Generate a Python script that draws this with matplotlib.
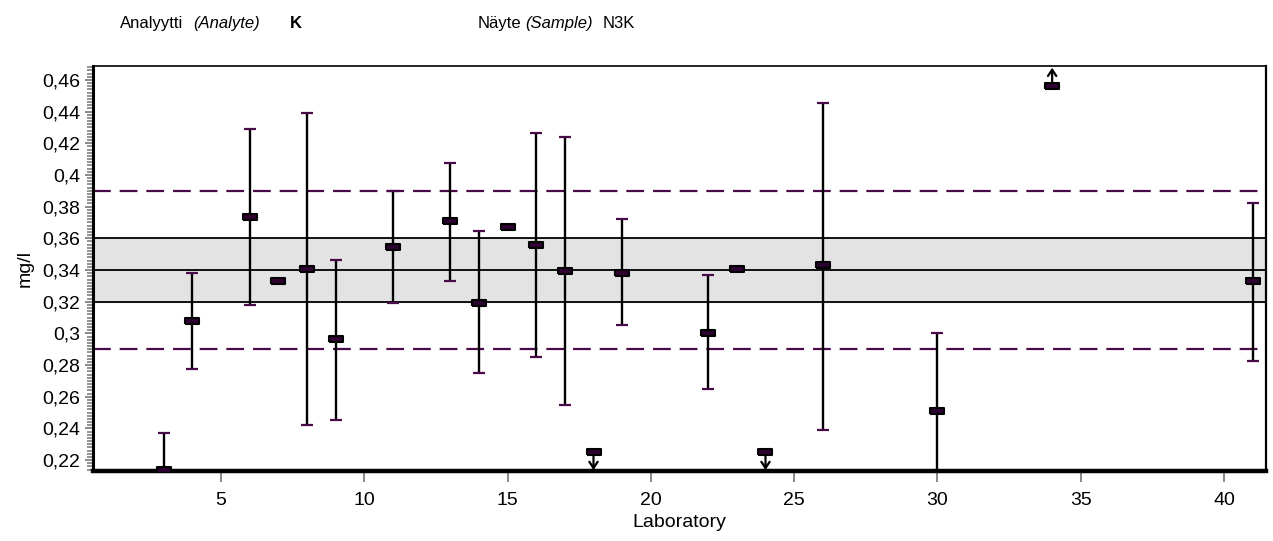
import numpy as np
import matplotlib
matplotlib.use("Agg")
import matplotlib.pyplot as plt
from matplotlib.ticker import MultipleLocator, FuncFormatter

plt.rcParams["font.family"] = ["Liberation Sans", "DejaVu Sans"]

# lab results: mean value, lower and upper end of uncertainty (nan = no bar)
labs = [3, 4, 6, 7, 8, 9, 11, 13, 14, 15, 16, 17, 19, 22, 23, 26, 30, 41]
vals = [0.2136, 0.3078, 0.3735, 0.333, 0.3406, 0.2962, 0.3547, 0.3711, 0.3191,
        0.3673, 0.3558, 0.3393, 0.3381, 0.300, 0.3406, 0.3431, 0.2507, 0.333]
lows = [0.19, 0.2772, 0.3179, np.nan, 0.2419, 0.2454, 0.3191, 0.333, 0.2747,
        np.nan, 0.285, 0.2545, 0.305, 0.2646, np.nan, 0.2393, 0.20, 0.2823]
highs = [0.237, 0.3381, 0.429, np.nan, 0.439, 0.3465, 0.39, 0.4076, 0.3644,
         np.nan, 0.4267, 0.4242, 0.3722, 0.3366, np.nan, 0.4457, 0.3002, 0.3823]

# results outside the axis range, drawn with an arrow
out_labs = [18, 24, 34]
out_vals = [0.2252, 0.2252, 0.4562]
out_dir = [-1, -1, 1]

assigned = 0.34
band_lo, band_hi = 0.32, 0.36
lim_lo, lim_hi = 0.29, 0.39

purple = "#4a0a4a"
mfill = "#2e0032"

fig = plt.figure(figsize=(12.73, 5.41), dpi=100)
ax = fig.add_axes([93/1273, 1-471/541, (1266-93)/1273, (471-66)/541])
ax.set_xlim(0.54, 41.46)
ax.set_ylim(0.2131, 0.4688)

ax.axhspan(band_lo, band_hi, color="#e3e3e3", zorder=0)
for v in (band_lo, assigned, band_hi):
    ax.axhline(v, color="black", lw=1.3, zorder=1)
for v in (lim_lo, lim_hi):
    ax.axhline(v, color=purple, lw=1.6, ls=(0, (8, 4)), zorder=1)

rect = [(-1, -0.42), (1, -0.42), (1, 0.42), (-1, 0.42), (-1, -0.42)]

lab_arr = np.array(labs, float)
lo_arr = np.array(lows)
hi_arr = np.array(highs)
has = ~np.isnan(lo_arr)
ax.vlines(lab_arr[has], lo_arr[has], hi_arr[has], color="black", lw=1.7, zorder=2)
ax.plot(lab_arr[has], lo_arr[has], ls="none", marker="_", ms=9, mew=1.6,
        color=purple, zorder=3)
ax.plot(lab_arr[has], hi_arr[has], ls="none", marker="_", ms=9, mew=1.6,
        color=purple, zorder=3)
ax.plot(labs, vals, ls="none", marker=rect, ms=10, mfc=mfill, mec="black",
        mew=1.5, zorder=4)

ax.plot(out_labs, out_vals, ls="none", marker=rect, ms=10, mfc=mfill, mec="black",
        mew=1.5, zorder=4)
for x, v, d in zip(out_labs, out_vals, out_dir):
    ax.annotate("", xy=(x, v + d * 0.0115), xytext=(x, v + d * 0.0022),
                arrowprops=dict(arrowstyle="->,head_length=0.45,head_width=0.3",
                                color="black", lw=1.6, shrinkA=0, shrinkB=0),
                zorder=5)

ax.xaxis.set_major_locator(MultipleLocator(5))
ax.yaxis.set_major_locator(MultipleLocator(0.02))
ax.yaxis.set_minor_locator(MultipleLocator(0.002))
ax.xaxis.set_major_formatter(FuncFormatter(lambda v, p: "" if v < 1 else f"{v:g}"))
ax.yaxis.set_major_formatter(FuncFormatter(
    lambda v, p: f"{round(v, 3):g}".replace(".", ",")))
ax.tick_params(axis="both", which="major", direction="out", length=6, width=1.3,
               color="#808080", labelsize=14, pad=3)
ax.tick_params(axis="x", which="major", length=8, pad=7)
ax.tick_params(axis="y", which="minor", direction="out", length=4, width=1.2,
               color="#808080")

for side, w in (("left", 2.2), ("bottom", 3.2), ("top", 1.2), ("right", 1.6)):
    ax.spines[side].set_linewidth(w)
    ax.spines[side].set_color("black")

ax.set_xlabel("Laboratory", fontsize=14, labelpad=4)
ax.set_ylabel("mg/l", fontsize=14, labelpad=6)

ty = 1 - 28/541
fs = 12
fig.text(120/1273, ty, "Analyytti", fontsize=fs, va="baseline")
fig.text(193/1273, ty, "(Analyte)", fontsize=fs, style="italic", va="baseline")
fig.text(290/1273, ty, "K", fontsize=fs, weight="bold", va="baseline")
fig.text(478/1273, ty, "Näyte", fontsize=fs, va="baseline")
fig.text(525/1273, ty, "(Sample)", fontsize=fs, style="italic", va="baseline")
fig.text(603/1273, ty, "N3K", fontsize=fs, va="baseline")

fig.savefig("out.png", dpi=100)
